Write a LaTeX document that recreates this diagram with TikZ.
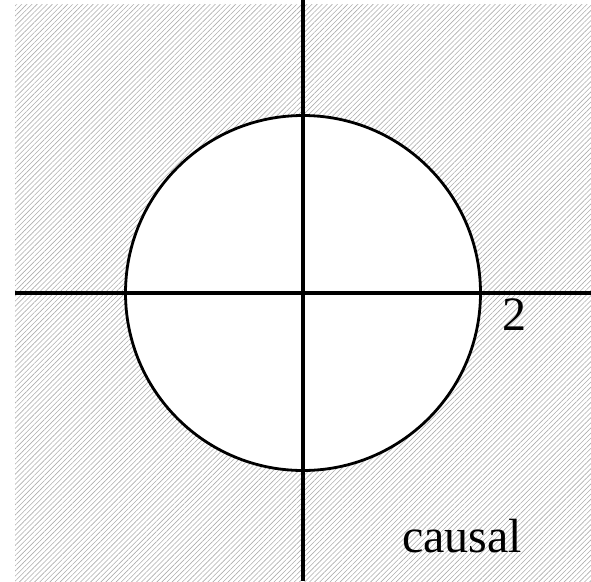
\documentclass[tikz,border=0pt]{standalone}
\usepackage{fontspec}
\setmainfont{Liberation Serif}
\usetikzlibrary{patterns.meta}
\begin{document}
\begin{tikzpicture}[x=1pt,y=-1pt,
  axis/.style={line width=3.2pt,black},
  rim/.style={line width=2.8pt,black,fill=white},
  lbl/.style={font=\fontsize{48}{48}\selectfont,inner sep=0pt}]
\useasboundingbox (0,0) rectangle (591,581);
\fill[pattern={Lines[angle=45,distance=3.6pt,line width=0.6pt]},pattern color=black!32] (15,4) rectangle (591,581);
\node[draw,circle,rim,minimum size=355pt,inner sep=0pt] (c) at (303,293) {};
\coordinate (top) at (303,0);
\coordinate (bot) at (303,581);
\coordinate (lft) at (15,293);
\coordinate (rgt) at (591,293);
\draw[axis] (top) -- (bot);
\draw[axis] (lft) -- (rgt);
\node[lbl,anchor=base west] (two) at (502,330) {2};
\node[lbl,anchor=base west] (causal) at (402,552) {causal};
\end{tikzpicture}
\end{document}
